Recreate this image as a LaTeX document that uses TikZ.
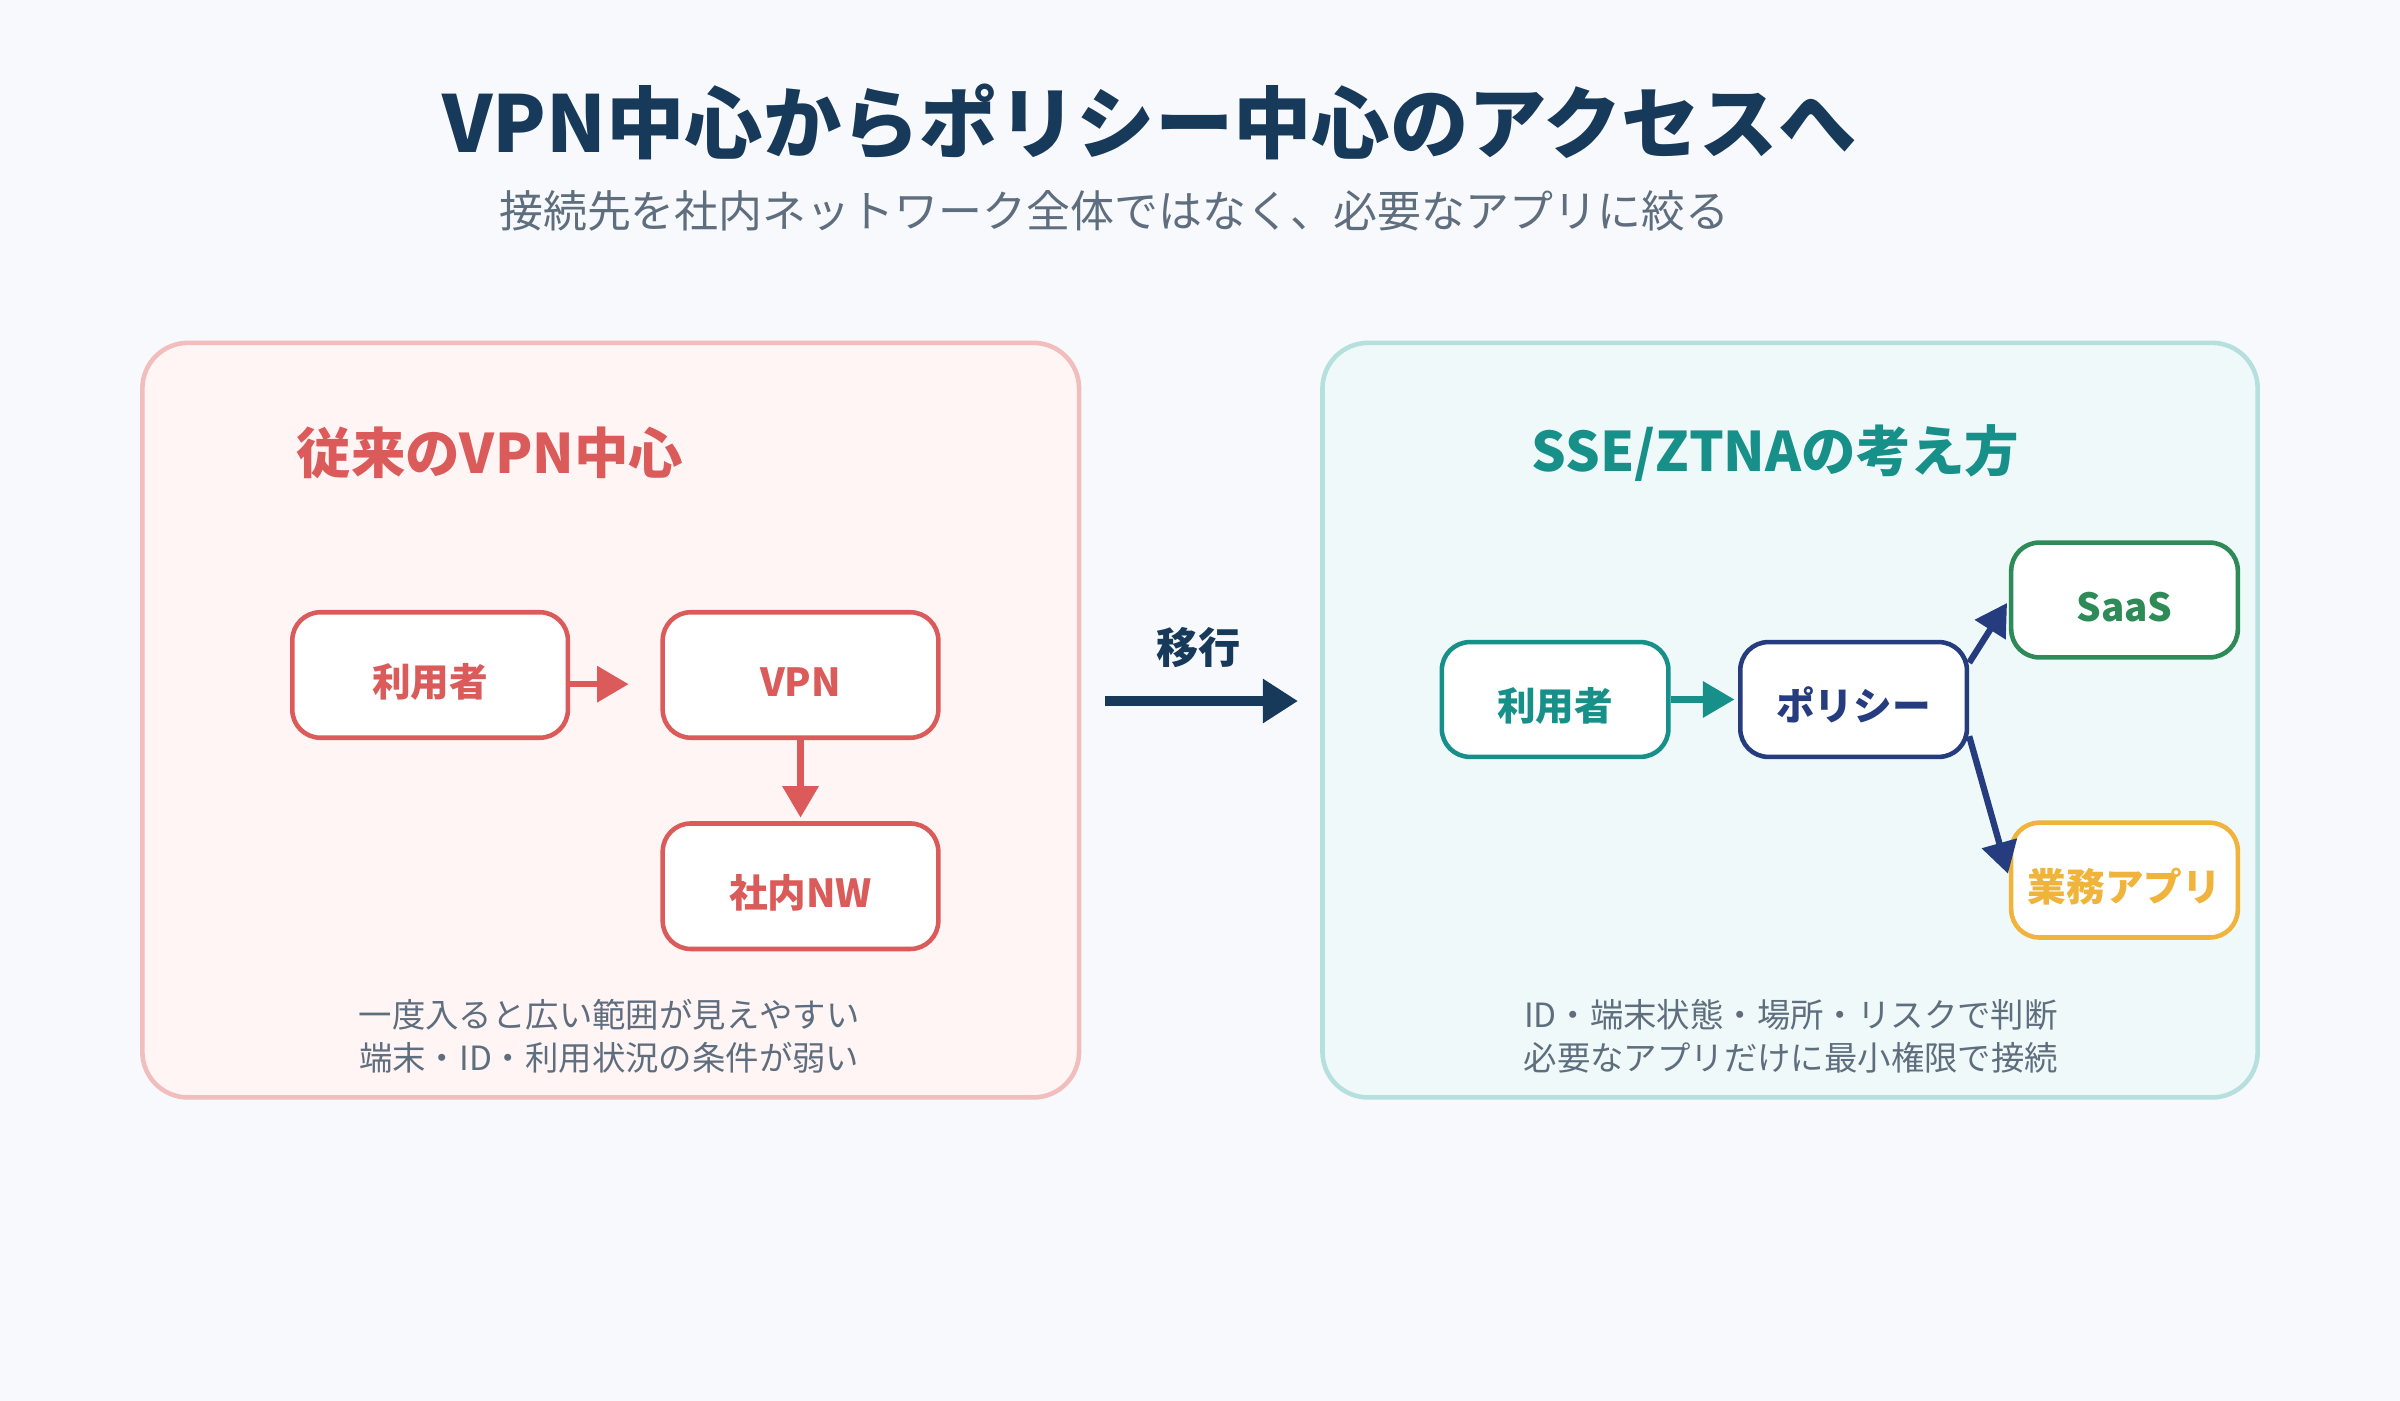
\documentclass[tikz,border=0pt]{standalone}
\usepackage{fontspec}
\setmainfont{Noto Sans CJK JP}
\usetikzlibrary{arrows.meta}
\definecolor{bg}{HTML}{F7F9FC}
\definecolor{navy}{HTML}{17395A}
\definecolor{gray}{HTML}{5F6E7E}
\definecolor{red}{HTML}{DB5A5A}
\definecolor{lred}{HTML}{F2BDBD}
\definecolor{pred}{HTML}{FFF5F4}
\definecolor{teal}{HTML}{17908A}
\definecolor{lteal}{HTML}{B5E0DE}
\definecolor{pteal}{HTML}{EFF9F9}
\definecolor{pnavy}{HTML}{253D7F}
\definecolor{green}{HTML}{2E8B57}
\definecolor{orange}{HTML}{F0B43C}
\begin{document}
\begin{tikzpicture}[x=0.01531cm,y=-0.01531cm,
 panel/.style={line width=1.3pt,rounded corners=13pt},
 box/.style={draw,fill=white,line width=1.3pt,rounded corners=8pt,font=\bfseries\fontsize{11}{13}\selectfont,inner sep=0pt,text height=1.2em,text depth=0pt},
 lbox/.style={box,minimum width=2.756cm,minimum height=1.255cm},
 rbox/.style={box,minimum width=2.266cm,minimum height=1.148cm},
 note/.style={text=gray,font=\fontsize{9.5}{12}\selectfont,align=center},
 arr/.style={line width=1.8pt,-{Triangle[length=9pt,width=10pt]},shorten >=1pt}]
\fill[bg] (0,0) rectangle (1568,915);
\useasboundingbox (0,0) rectangle (1568,915);
\node[text=navy,font=\bfseries\fontsize{22.3}{26}\selectfont] (title) at (751,80) {VPN中心からポリシー中心のアクセスへ};
\node[text=gray,font=\fontsize{12.5}{15}\selectfont] (sub) at (728,138) {接続先を社内ネットワーク全体ではなく、必要なアプリに絞る};
% left panel
\draw[panel,draw=lred,fill=pred] (93,224) rectangle (705,717);
\node[text=red,font=\bfseries\fontsize{15.5}{18}\selectfont] (lh) at (320,296) {従来のVPN中心};
\node[lbox,draw=red,text=red] (u1) at (281,441) {利用者};
\node[lbox,draw=red,text=red] (vpn) at (523,441) {VPN};
\node[lbox,draw=red,text=red] (nw) at (523,579) {社内NW};
\coordinate (a2) at (413,447);
\draw[arr,red] (u1.east |- a2) -- (a2);
\draw[arr,red] (vpn) -- (nw);
\node[note] (ln) at (398,677) {一度入ると広い範囲が見えやすい\\端末・ID・利用状況の条件が弱い};
% middle
\node[text=navy,font=\bfseries\fontsize{12}{14}\selectfont] (mig) at (783,423) {移行};
\coordinate (m1) at (722,458); \coordinate (m2) at (848,458);
\draw[navy,line width=2.6pt,-{Triangle[length=10pt,width=12pt]}] (m1) -- (m2);
% right panel
\draw[panel,draw=lteal,fill=pteal] (864,224) rectangle (1475,717);
\node[text=teal,font=\bfseries\fontsize{15.5}{18}\selectfont] (rh) at (1160,296) {SSE/ZTNAの考え方};
\node[rbox,draw=teal,text=teal] (u2) at (1016,457) {利用者};
\node[rbox,draw=pnavy,text=pnavy] (pol) at (1211,457) {ポリシー};
\node[rbox,draw=green,text=green] (saas) at (1388,392) {SaaS};
\node[rbox,draw=orange,text=orange] (app) at (1388,575) {業務アプリ};
\draw[arr,teal] (u2) -- (pol);
\draw[arr,pnavy] (pol.north east) ++(0,15) -- (saas.west);
\draw[arr,pnavy] (pol.south east) ++(0,-15) -- ([yshift=0.03cm]app.west);
\node[note] (rn) at (1170,677) {ID・端末状態・場所・リスクで判断\\必要なアプリだけに最小権限で接続};
\end{tikzpicture}
\end{document}
